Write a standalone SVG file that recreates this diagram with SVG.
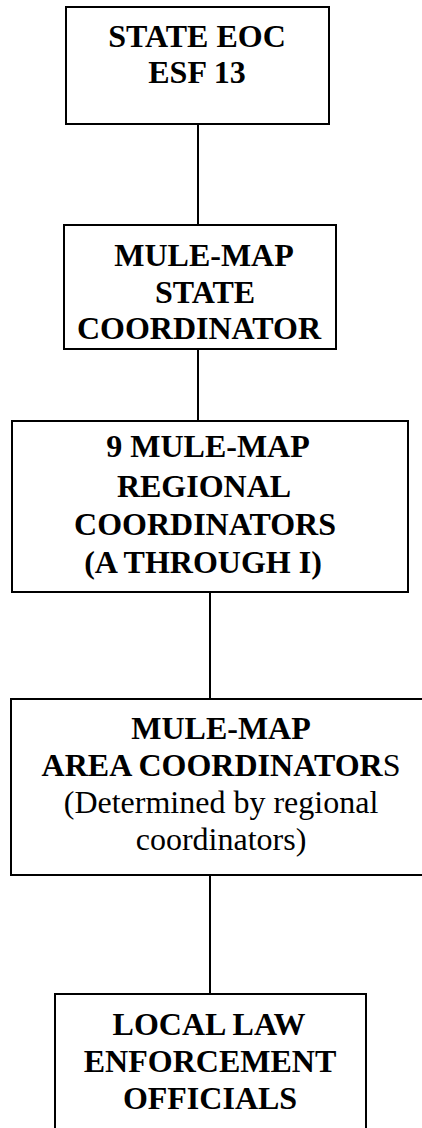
<svg xmlns="http://www.w3.org/2000/svg" width="422" height="1128" viewBox="0 0 422 1128">
<style>
.box{fill:#fff;stroke:#000;stroke-width:2}
.conn{stroke:#000;stroke-width:2;fill:none}
text{font-family:"Liberation Serif","Times New Roman",serif;font-size:32px;text-anchor:middle;fill:#000}
.b{font-weight:bold}
</style>
<rect width="422" height="1128" fill="#fff"/>
<g id="connectors">
<line class="conn" x1="198" y1="124" x2="198" y2="225"/>
<line class="conn" x1="198" y1="349" x2="198" y2="421"/>
<line class="conn" x1="210" y1="592" x2="210" y2="699"/>
<line class="conn" x1="210" y1="875" x2="210" y2="994"/>
</g>
<g id="state-eoc">
<rect class="box" x="66" y="7" width="263" height="117"/>
<text class="b" x="197" y="47">STATE EOC</text>
<text class="b" x="197" y="83">ESF 13</text>
</g>
<g id="state-coordinator">
<rect class="box" x="64" y="225" width="272" height="124"/>
<text class="b" x="204" y="266">MULE-MAP</text>
<text class="b" x="205" y="303">STATE</text>
<text class="b" x="199" y="339">COORDINATOR</text>
</g>
<g id="regional-coordinators">
<rect class="box" x="12" y="421" width="396" height="171"/>
<text class="b" x="208" y="457">9 MULE-MAP</text>
<text class="b" x="204" y="497">REGIONAL</text>
<text class="b" x="205" y="535">COORDINATORS</text>
<text class="b" x="203" y="573">(A THROUGH I)</text>
</g>
<g id="area-coordinators">
<rect class="box" x="11" y="699" width="420" height="176"/>
<text class="b" x="221" y="739">MULE-MAP</text>
<text x="221" y="776"><tspan class="b">AREA COORDINATOR</tspan>S</text>
<text x="221" y="813">(Determined by regional</text>
<text x="221" y="850">coordinators)</text>
</g>
<g id="local-law">
<rect class="box" x="55" y="994" width="311" height="140"/>
<text class="b" x="209" y="1035">LOCAL LAW</text>
<text class="b" x="210" y="1072">ENFORCEMENT</text>
<text class="b" x="210" y="1109">OFFICIALS</text>
</g>
</svg>
